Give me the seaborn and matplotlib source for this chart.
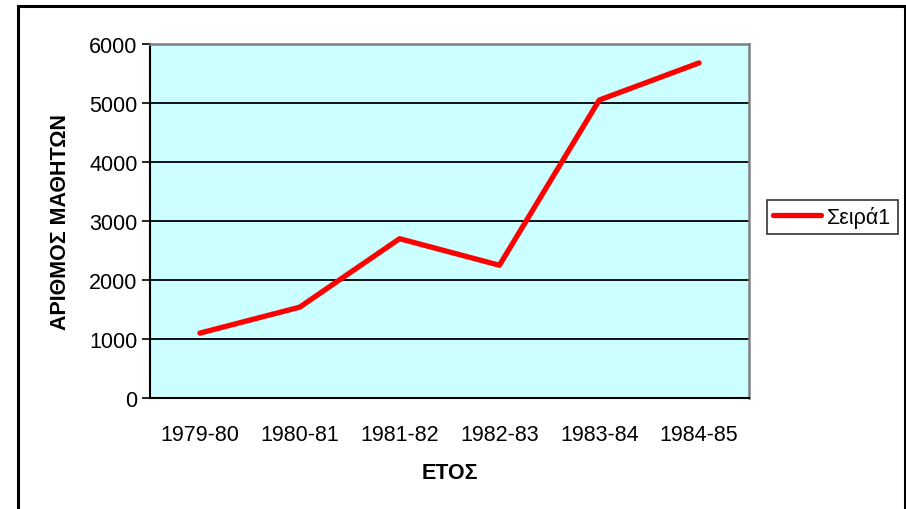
import matplotlib
matplotlib.use("Agg")
import matplotlib.pyplot as plt
import seaborn as sns
import pandas as pd
from matplotlib.patches import Rectangle
from matplotlib.ticker import FixedLocator

years = ['1979-80', '1980-81', '1981-82', '1982-83', '1983-84', '1984-85']
students = [1100, 1540, 2700, 2250, 5050, 5680]
series_name = 'Σειρά1'

df = pd.DataFrame({'year': years, 'students': students, 'series': series_name})

sns.set_style('white')
plt.rcParams['font.family'] = ['Liberation Sans', 'DejaVu Sans']
plt.rcParams['text.color'] = 'black'
plt.rcParams['axes.labelcolor'] = 'black'
plt.rcParams['xtick.color'] = 'black'
plt.rcParams['ytick.color'] = 'black'

fig = plt.figure(figsize=(9.06, 5.10), dpi=100)
ax = fig.add_axes([150 / 906, 1 - 399 / 510, 599 / 906, 354 / 510])
ax.set_facecolor('#CCFFFF')

sns.lineplot(data=df, x='year', y='students', hue='series', palette=['#FF0000'],
             linewidth=3.8, sort=False, ax=ax, legend=True)

ax.set_xlim(-0.5, 5.5)
ax.set_ylim(0, 6000)
ax.set_yticks(range(0, 6001, 1000))
ax.yaxis.grid(True, color='black', linewidth=1.3)
ax.set_axisbelow(True)

ax.set_xticks(range(len(years)))
ax.set_xticklabels(years)
ax.xaxis.set_minor_locator(FixedLocator([i - 0.5 for i in range(len(years) + 1)]))
ax.tick_params(axis='x', which='major', length=0, pad=19, labelsize=15.5)
ax.tick_params(axis='x', which='minor', length=6, width=1.2, color='black', direction='out')
ax.tick_params(axis='y', length=6, width=1.2, color='black', direction='out', labelsize=15.5, pad=3, left=True)

for side in ['left', 'bottom']:
    ax.spines[side].set_color('black')
    ax.spines[side].set_linewidth(1.5)
for side in ['top', 'right']:
    ax.spines[side].set_color('#808080')
    ax.spines[side].set_linewidth(1.8)

ax.set_xlabel('ΕΤΟΣ', fontsize=15.5, fontweight='bold', labelpad=12)
ax.set_ylabel('ΑΡΙΘΜΟΣ ΜΑΘΗΤΩΝ', fontsize=15.5, fontweight='bold', labelpad=13)

ax.get_legend().remove()
handles, labels = ax.get_legend_handles_labels()
leg = fig.legend(handles, labels, loc='center left', bbox_to_anchor=(767 / 906, 1 - 218 / 510),
                 frameon=True, fancybox=False, fontsize=15.5, handlelength=2.2,
                 borderpad=0.3, handletextpad=0.3, borderaxespad=0)
leg.get_frame().set_edgecolor('black')
leg.get_frame().set_linewidth(1.2)

fig.patches.append(Rectangle((18 / 906, -0.1), 887 / 906, 1.1 - 7 / 510, transform=fig.transFigure,
                             fill=False, edgecolor='black', linewidth=2.2))

fig.savefig('out.png', dpi=100)
